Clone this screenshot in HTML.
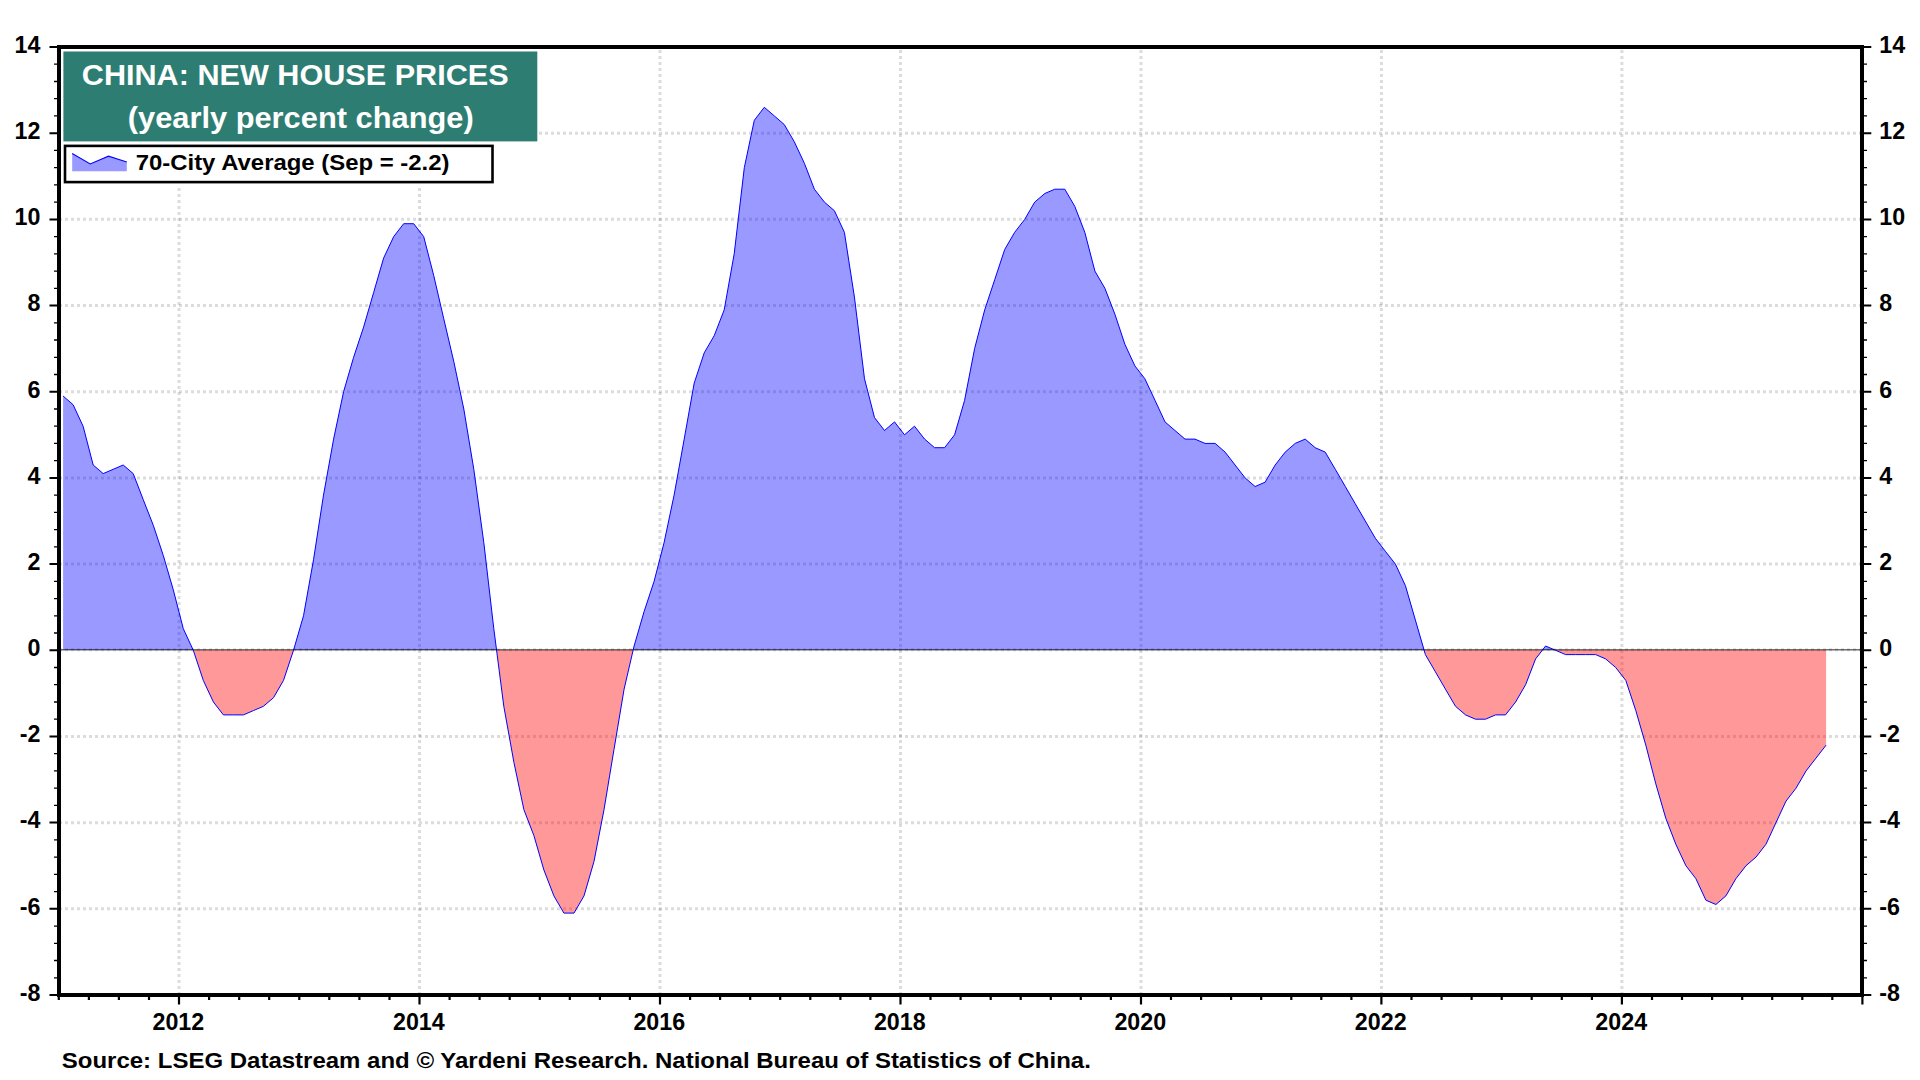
<!DOCTYPE html>
<html lang="en"><head><meta charset="utf-8"><title>China: New House Prices</title>
<style>
html,body{margin:0;padding:0;background:#fff;}
body{width:1920px;height:1080px;overflow:hidden;}
svg{display:block;}
text{font-family:"Liberation Sans",sans-serif;font-weight:bold;fill:#000;}
.ax{font-size:24px;}
</style></head><body>
<svg width="1920" height="1080" viewBox="0 0 1920 1080">
<rect width="1920" height="1080" fill="#fff"/>

<g stroke="#000" stroke-opacity="0.138" stroke-width="3" stroke-dasharray="3 3" fill="none">
<path d="M59 908.82H1860"/>
<path d="M59 822.64H1860"/>
<path d="M59 736.45H1860"/>
<path d="M59 649.80H1860"/>
<path d="M59 564.09H1860"/>
<path d="M59 477.91H1860"/>
<path d="M59 391.73H1860"/>
<path d="M59 305.55H1860"/>
<path d="M59 219.36H1860"/>
<path d="M59 133.18H1860"/>
<path d="M179.04 50V993"/>
<path d="M419.52 50V993"/>
<path d="M660.00 50V993"/>
<path d="M900.48 50V993"/>
<path d="M1140.96 50V993"/>
<path d="M1381.44 50V993"/>
<path d="M1621.92 50V993"/>
</g>
<path d="M63.1 650.0L63.1 396.0L73.1 404.7L83.1 426.2L93.2 465.0L103.2 473.6L113.2 469.3L123.2 465.0L133.2 473.6L143.2 499.5L153.3 525.3L163.3 555.5L173.3 589.9L183.3 628.7L193.3 650.3L193.3 650.0ZM293.5 650.0L293.5 650.3L303.5 615.8L313.5 559.8L323.5 495.1L333.6 439.1L343.6 391.7L353.6 357.3L363.6 327.1L373.6 292.6L383.6 258.1L393.7 236.6L403.7 223.7L413.7 223.7L423.7 236.6L433.7 275.4L443.7 318.5L453.8 361.6L463.8 409.0L473.8 469.3L483.8 542.5L493.8 628.7L496.6 650.0L496.6 650.0ZM633.1 650.0L633.1 650.0L634.1 646.0L644.1 611.5L654.1 581.3L664.1 542.5L674.1 495.1L684.2 439.1L694.2 383.1L704.2 352.9L714.2 335.7L724.2 309.9L734.2 253.8L744.3 167.7L754.3 120.3L764.3 107.3L774.3 115.9L784.3 124.6L794.3 141.8L804.4 163.3L814.4 189.2L824.4 202.1L834.4 210.7L844.4 232.3L854.4 296.9L864.5 378.8L874.5 417.6L884.5 430.5L894.5 421.9L904.5 434.8L914.5 426.2L924.6 439.1L934.6 447.7L944.6 447.7L954.6 434.8L964.6 400.3L974.6 348.6L984.7 309.9L994.7 279.7L1004.7 249.5L1014.7 232.3L1024.7 219.4L1034.7 202.1L1044.8 193.5L1054.8 189.2L1064.8 189.2L1074.8 206.4L1084.8 232.3L1094.9 271.1L1104.9 288.3L1114.9 314.2L1124.9 344.3L1134.9 365.9L1144.9 378.8L1155.0 400.3L1165.0 421.9L1175.0 430.5L1185.0 439.1L1195.0 439.1L1205.0 443.4L1215.1 443.4L1225.1 452.1L1235.1 465.0L1245.1 477.9L1255.1 486.5L1265.1 482.2L1275.2 465.0L1285.2 452.1L1295.2 443.4L1305.2 439.1L1315.2 447.7L1325.2 452.1L1335.3 469.3L1345.3 486.5L1355.3 503.8L1365.3 521.0L1375.3 538.2L1385.3 551.2L1395.4 564.1L1405.4 585.6L1415.4 620.1L1424.2 650.0L1424.2 650.0ZM1542.3 650.0L1542.3 650.0L1545.6 646.0L1555.6 650.3L1555.6 650.0Z" fill="rgba(0,0,255,0.4)"/>
<path d="M193.3 650.0L193.3 650.3L203.3 680.4L213.4 702.0L223.4 714.9L233.4 714.9L243.4 714.9L253.4 710.6L263.4 706.3L273.5 697.7L283.5 680.4L293.5 650.3L293.5 650.0ZM496.6 650.0L496.6 650.0L503.8 706.3L513.9 762.3L523.9 809.7L533.9 835.6L543.9 870.0L553.9 895.9L563.9 913.1L574.0 913.1L584.0 895.9L594.0 861.4L604.0 809.7L614.0 749.4L624.1 689.1L633.1 650.0L633.1 650.0ZM1424.2 650.0L1424.2 650.0L1425.4 654.6L1435.4 671.8L1445.4 689.1L1455.5 706.3L1465.5 714.9L1475.5 719.2L1485.5 719.2L1495.5 714.9L1505.5 714.9L1515.6 702.0L1525.6 684.7L1535.6 658.9L1542.3 650.0L1542.3 650.0ZM1555.6 650.0L1555.6 650.3L1565.6 654.6L1575.7 654.6L1585.7 654.6L1595.7 654.6L1605.7 658.9L1615.7 667.5L1625.8 680.4L1635.8 710.6L1645.8 745.1L1655.8 783.9L1665.8 818.3L1675.8 844.2L1685.9 865.7L1695.9 878.7L1705.9 900.2L1715.9 904.5L1725.9 895.9L1735.9 878.7L1746.0 865.7L1756.0 857.1L1766.0 844.2L1776.0 822.6L1786.0 801.1L1796.0 788.2L1806.1 770.9L1816.1 758.0L1826.1 745.1L1826.1 650.0Z" fill="rgba(255,0,0,0.4)"/>
<path d="M63.1 396.0L73.1 404.7L83.1 426.2L93.2 465.0L103.2 473.6L113.2 469.3L123.2 465.0L133.2 473.6L143.2 499.5L153.3 525.3L163.3 555.5L173.3 589.9L183.3 628.7L193.3 650.3L203.3 680.4L213.4 702.0L223.4 714.9L233.4 714.9L243.4 714.9L253.4 710.6L263.4 706.3L273.5 697.7L283.5 680.4L293.5 650.3L303.5 615.8L313.5 559.8L323.5 495.1L333.6 439.1L343.6 391.7L353.6 357.3L363.6 327.1L373.6 292.6L383.6 258.1L393.7 236.6L403.7 223.7L413.7 223.7L423.7 236.6L433.7 275.4L443.7 318.5L453.8 361.6L463.8 409.0L473.8 469.3L483.8 542.5L493.8 628.7L503.8 706.3L513.9 762.3L523.9 809.7L533.9 835.6L543.9 870.0L553.9 895.9L563.9 913.1L574.0 913.1L584.0 895.9L594.0 861.4L604.0 809.7L614.0 749.4L624.1 689.1L634.1 646.0L644.1 611.5L654.1 581.3L664.1 542.5L674.1 495.1L684.2 439.1L694.2 383.1L704.2 352.9L714.2 335.7L724.2 309.9L734.2 253.8L744.3 167.7L754.3 120.3L764.3 107.3L774.3 115.9L784.3 124.6L794.3 141.8L804.4 163.3L814.4 189.2L824.4 202.1L834.4 210.7L844.4 232.3L854.4 296.9L864.5 378.8L874.5 417.6L884.5 430.5L894.5 421.9L904.5 434.8L914.5 426.2L924.6 439.1L934.6 447.7L944.6 447.7L954.6 434.8L964.6 400.3L974.6 348.6L984.7 309.9L994.7 279.7L1004.7 249.5L1014.7 232.3L1024.7 219.4L1034.7 202.1L1044.8 193.5L1054.8 189.2L1064.8 189.2L1074.8 206.4L1084.8 232.3L1094.9 271.1L1104.9 288.3L1114.9 314.2L1124.9 344.3L1134.9 365.9L1144.9 378.8L1155.0 400.3L1165.0 421.9L1175.0 430.5L1185.0 439.1L1195.0 439.1L1205.0 443.4L1215.1 443.4L1225.1 452.1L1235.1 465.0L1245.1 477.9L1255.1 486.5L1265.1 482.2L1275.2 465.0L1285.2 452.1L1295.2 443.4L1305.2 439.1L1315.2 447.7L1325.2 452.1L1335.3 469.3L1345.3 486.5L1355.3 503.8L1365.3 521.0L1375.3 538.2L1385.3 551.2L1395.4 564.1L1405.4 585.6L1415.4 620.1L1425.4 654.6L1435.4 671.8L1445.4 689.1L1455.5 706.3L1465.5 714.9L1475.5 719.2L1485.5 719.2L1495.5 714.9L1505.5 714.9L1515.6 702.0L1525.6 684.7L1535.6 658.9L1545.6 646.0L1555.6 650.3L1565.6 654.6L1575.7 654.6L1585.7 654.6L1595.7 654.6L1605.7 658.9L1615.7 667.5L1625.8 680.4L1635.8 710.6L1645.8 745.1L1655.8 783.9L1665.8 818.3L1675.8 844.2L1685.9 865.7L1695.9 878.7L1705.9 900.2L1715.9 904.5L1725.9 895.9L1735.9 878.7L1746.0 865.7L1756.0 857.1L1766.0 844.2L1776.0 822.6L1786.0 801.1L1796.0 788.2L1806.1 770.9L1816.1 758.0L1826.1 745.1" fill="none" stroke="#0000ff" stroke-width="1" stroke-linejoin="round"/>
<path d="M61 649.8H1862" stroke="#000" stroke-opacity="0.56" stroke-width="1.6"/>
<rect x="59" y="47" width="1803" height="948" fill="none" stroke="#000" stroke-width="4"/>
<path d="M49.5 995.0H57M1864 995.0H1871.3M49.5 908.8H57M1864 908.8H1871.3M49.5 822.6H57M1864 822.6H1871.3M49.5 736.5H57M1864 736.5H1871.3M49.5 650.3H57M1864 650.3H1871.3M49.5 564.1H57M1864 564.1H1871.3M49.5 477.9H57M1864 477.9H1871.3M49.5 391.7H57M1864 391.7H1871.3M49.5 305.5H57M1864 305.5H1871.3M49.5 219.4H57M1864 219.4H1871.3M49.5 133.2H57M1864 133.2H1871.3M49.5 47.0H57M1864 47.0H1871.3" stroke="#000" stroke-width="2" fill="none"/>
<path d="M54 977.8H57M1864 977.8H1867M54 960.5H57M1864 960.5H1867M54 943.3H57M1864 943.3H1867M54 926.1H57M1864 926.1H1867M54 891.6H57M1864 891.6H1867M54 874.3H57M1864 874.3H1867M54 857.1H57M1864 857.1H1867M54 839.9H57M1864 839.9H1867M54 805.4H57M1864 805.4H1867M54 788.2H57M1864 788.2H1867M54 770.9H57M1864 770.9H1867M54 753.7H57M1864 753.7H1867M54 719.2H57M1864 719.2H1867M54 702.0H57M1864 702.0H1867M54 684.7H57M1864 684.7H1867M54 667.5H57M1864 667.5H1867M54 633.0H57M1864 633.0H1867M54 615.8H57M1864 615.8H1867M54 598.6H57M1864 598.6H1867M54 581.3H57M1864 581.3H1867M54 546.9H57M1864 546.9H1867M54 529.6H57M1864 529.6H1867M54 512.4H57M1864 512.4H1867M54 495.1H57M1864 495.1H1867M54 460.7H57M1864 460.7H1867M54 443.4H57M1864 443.4H1867M54 426.2H57M1864 426.2H1867M54 409.0H57M1864 409.0H1867M54 374.5H57M1864 374.5H1867M54 357.3H57M1864 357.3H1867M54 340.0H57M1864 340.0H1867M54 322.8H57M1864 322.8H1867M54 288.3H57M1864 288.3H1867M54 271.1H57M1864 271.1H1867M54 253.8H57M1864 253.8H1867M54 236.6H57M1864 236.6H1867M54 202.1H57M1864 202.1H1867M54 184.9H57M1864 184.9H1867M54 167.7H57M1864 167.7H1867M54 150.4H57M1864 150.4H1867M54 115.9H57M1864 115.9H1867M54 98.7H57M1864 98.7H1867M54 81.5H57M1864 81.5H1867M54 64.2H57M1864 64.2H1867" stroke="#000" stroke-width="1.3" fill="none"/>
<path d="M58.8 997V1000M88.9 997V1000M118.9 997V1000M149.0 997V1000M179.0 997V1004.6M209.1 997V1000M239.2 997V1000M269.2 997V1000M299.3 997V1000M329.3 997V1000M359.4 997V1000M389.5 997V1000M419.5 997V1004.6M449.6 997V1000M479.6 997V1000M509.7 997V1000M539.8 997V1000M569.8 997V1000M599.9 997V1000M629.9 997V1000M660.0 997V1004.6M690.1 997V1000M720.1 997V1000M750.2 997V1000M780.2 997V1000M810.3 997V1000M840.4 997V1000M870.4 997V1000M900.5 997V1004.6M930.5 997V1000M960.6 997V1000M990.7 997V1000M1020.7 997V1000M1050.8 997V1000M1080.8 997V1000M1110.9 997V1000M1141.0 997V1004.6M1171.0 997V1000M1201.1 997V1000M1231.1 997V1000M1261.2 997V1000M1291.3 997V1000M1321.3 997V1000M1351.4 997V1000M1381.4 997V1004.6M1411.5 997V1000M1441.6 997V1000M1471.6 997V1000M1501.7 997V1000M1531.7 997V1000M1561.8 997V1000M1591.9 997V1000M1621.9 997V1004.6M1652.0 997V1000M1682.0 997V1000M1712.1 997V1000M1742.2 997V1000M1772.2 997V1000M1802.3 997V1000M1832.3 997V1000M1862.4 997V1004.6" stroke="#000" stroke-width="2.2" fill="none"/>
<text transform="translate(40.40 1000.80) scale(0.99 1)" text-anchor="end" style="font-size:23.5px">-8</text>
<text transform="translate(1879.30 1000.80) scale(0.99 1)" style="font-size:23.5px">-8</text>
<text transform="translate(40.40 914.62) scale(0.99 1)" text-anchor="end" style="font-size:23.5px">-6</text>
<text transform="translate(1879.30 914.62) scale(0.99 1)" style="font-size:23.5px">-6</text>
<text transform="translate(40.40 828.44) scale(0.99 1)" text-anchor="end" style="font-size:23.5px">-4</text>
<text transform="translate(1879.30 828.44) scale(0.99 1)" style="font-size:23.5px">-4</text>
<text transform="translate(40.40 742.25) scale(0.99 1)" text-anchor="end" style="font-size:23.5px">-2</text>
<text transform="translate(1879.30 742.25) scale(0.99 1)" style="font-size:23.5px">-2</text>
<text transform="translate(40.40 656.07) scale(0.99 1)" text-anchor="end" style="font-size:23.5px">0</text>
<text transform="translate(1879.30 656.07) scale(0.99 1)" style="font-size:23.5px">0</text>
<text transform="translate(40.40 569.89) scale(0.99 1)" text-anchor="end" style="font-size:23.5px">2</text>
<text transform="translate(1879.30 569.89) scale(0.99 1)" style="font-size:23.5px">2</text>
<text transform="translate(40.40 483.71) scale(0.99 1)" text-anchor="end" style="font-size:23.5px">4</text>
<text transform="translate(1879.30 483.71) scale(0.99 1)" style="font-size:23.5px">4</text>
<text transform="translate(40.40 397.53) scale(0.99 1)" text-anchor="end" style="font-size:23.5px">6</text>
<text transform="translate(1879.30 397.53) scale(0.99 1)" style="font-size:23.5px">6</text>
<text transform="translate(40.40 311.35) scale(0.99 1)" text-anchor="end" style="font-size:23.5px">8</text>
<text transform="translate(1879.30 311.35) scale(0.99 1)" style="font-size:23.5px">8</text>
<text transform="translate(40.40 225.16) scale(0.99 1)" text-anchor="end" style="font-size:23.5px">10</text>
<text transform="translate(1879.30 225.16) scale(0.99 1)" style="font-size:23.5px">10</text>
<text transform="translate(40.40 138.98) scale(0.99 1)" text-anchor="end" style="font-size:23.5px">12</text>
<text transform="translate(1879.30 138.98) scale(0.99 1)" style="font-size:23.5px">12</text>
<text transform="translate(40.40 52.80) scale(0.99 1)" text-anchor="end" style="font-size:23.5px">14</text>
<text transform="translate(1879.30 52.80) scale(0.99 1)" style="font-size:23.5px">14</text>
<text transform="translate(178.34 1029.80) scale(0.99 1)" text-anchor="middle" style="font-size:23.5px">2012</text>
<text transform="translate(418.82 1029.80) scale(0.99 1)" text-anchor="middle" style="font-size:23.5px">2014</text>
<text transform="translate(659.30 1029.80) scale(0.99 1)" text-anchor="middle" style="font-size:23.5px">2016</text>
<text transform="translate(899.78 1029.80) scale(0.99 1)" text-anchor="middle" style="font-size:23.5px">2018</text>
<text transform="translate(1140.26 1029.80) scale(0.99 1)" text-anchor="middle" style="font-size:23.5px">2020</text>
<text transform="translate(1380.74 1029.80) scale(0.99 1)" text-anchor="middle" style="font-size:23.5px">2022</text>
<text transform="translate(1621.22 1029.80) scale(0.99 1)" text-anchor="middle" style="font-size:23.5px">2024</text>
<rect x="61" y="49" width="477.5" height="137" fill="#fff"/>
<rect x="63.4" y="51.5" width="473.9" height="89.9" fill="#2e7d72"/>
<text transform="translate(295.20 85.20) scale(1.045 1)" text-anchor="middle" style="font-size:29.3px;fill:#fff">CHINA: NEW HOUSE PRICES</text>
<text transform="translate(300.70 127.50) scale(1.052 1)" text-anchor="middle" style="font-size:29.3px;fill:#fff">(yearly percent change)</text>
<rect x="65" y="145.9" width="427.5" height="36.2" fill="#fff" stroke="#000" stroke-width="2.6"/>
<path d="M72.2 153.4L90.2 163.9L108.5 156.2L126.8 162.1V171.3H72.2Z" fill="#9999ff"/>
<path d="M72.2 153.4L90.2 163.9L108.5 156.2L126.8 162.1" fill="none" stroke="#0000ff" stroke-width="1.1"/>
<text transform="translate(135.70 169.90) scale(1.068 1)" style="font-size:22.4px">70-City Average (Sep = -2.2)</text>
<text transform="translate(61.80 1068.30) scale(1.076 1)" style="font-size:22.3px">Source: LSEG Datastream and © Yardeni Research. National Bureau of Statistics of China.</text>
</svg></body></html>
